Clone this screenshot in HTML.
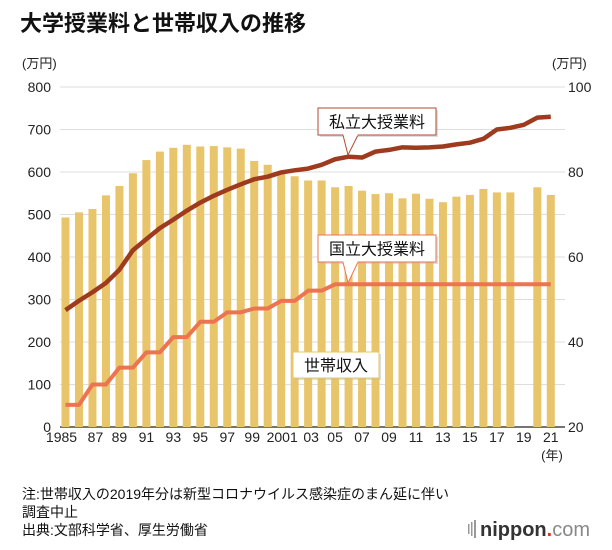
<!DOCTYPE html>
<html><head><meta charset="utf-8"><style>
body{margin:0;background:#fff;width:612px;height:545px;overflow:hidden;font-family:"Liberation Sans","Noto Sans CJK JP",sans-serif;}
svg text{font-family:"Liberation Sans","Noto Sans CJK JP",sans-serif;}
</style></head><body>
<svg id="s" width="612" height="545" xmlns="http://www.w3.org/2000/svg"></svg>
<script>
var inc=[493,505,513,545,567,597,628,648,657,664,660,661,658,655,626,617,602,590,580,580,564,567,556,548,550,538,549,537,529,542,546,560,552,552,null,564,546];
var pri=[47.5,49.7,51.7,53.9,57,61.6,64.2,66.8,68.8,70.9,72.8,74.4,75.8,77.1,78.3,78.9,79.9,80.4,80.8,81.7,83,83.6,83.4,84.8,85.2,85.8,85.7,85.8,86,86.5,86.9,87.8,90,90.4,91.1,92.8,93];
var nat=[25.2,25.2,30,30,33.96,33.96,37.56,37.56,41.16,41.16,44.76,44.76,46.98,46.98,47.88,47.88,49.68,49.68,52.08,52.08];
while(nat.length<37)nat.push(53.58);
var h='';
h+='<text x="20" y="31" font-size="22" font-weight="bold" fill="#111">大学授業料と世帯収入の推移</text>';
h+='<text x="22" y="68" font-size="13" fill="#222">(万円)</text><text x="552" y="68" font-size="13" fill="#222">(万円)</text>';
var y0=427,k=0.425;
for(var v=0;v<=800;v+=100){var y=y0-v*k;h+='<line x1="60" x2="565" y1="'+y+'" y2="'+y+'" stroke="'+(v?'#ddd':'#222')+'" stroke-width="'+(v?1:1.2)+'"/>';
h+='<text x="51" y="'+(y+5)+'" font-size="14" text-anchor="end" fill="#222">'+v+'</text>';}
for(var r=20;r<=100;r+=20){var y=y0-(r-20)*4.25;h+='<text x="568" y="'+(y+5)+'" font-size="14" fill="#222">'+r+'</text>';}
var p=13.48,c0=65.5;
for(var i=0;i<37;i++){if(inc[i]==null)continue;var x=c0+i*p-4;h+='<rect x="'+x+'" y="'+(y0-inc[i]*k)+'" width="8" height="'+(inc[i]*k)+'" fill="#e8c46a"/>';}
function line(a,col,w){var s='';for(var i=0;i<a.length;i++){s+=(i?'L':'M')+(c0+i*p)+','+(y0-(a[i]-20)*4.25);}return '<path d="'+s+'" fill="none" stroke="'+col+'" stroke-width="'+w+'" stroke-linejoin="round"/>';}
h+=line(nat,'#ec7450',4);h+=line(pri,'#9e3a1e',4.5);
var lab=['1985','87','89','91','93','95','97','99','2001','03','05','07','09','11','13','15','17','19','21'];
for(var j=0;j<lab.length;j++){var x=c0+j*2*p;var t=lab[j];if(j==0){x-=4;}if(j==1){x+=3;}if(j==7)x-=2;if(j==8)x+=1;if(j==9)x+=3;
h+='<text x="'+x+'" y="442" font-size="14" text-anchor="middle" fill="#222">'+t+'</text>';}
h+='<text x="552" y="460" font-size="13" text-anchor="middle" fill="#222">(年)</text>';
function box(x,y,w,hh,t,bc,tx,ty){var s='<rect x="'+(x+2)+'" y="'+(y+2)+'" width="'+w+'" height="'+hh+'" fill="#bbb" opacity="0.5"/>';
s+='<rect x="'+x+'" y="'+y+'" width="'+w+'" height="'+hh+'" fill="#fff" stroke="'+bc+'" stroke-width="1"/>';
if(tx){s+='<path d="M'+(x+25)+','+(y+hh)+' L'+tx+','+ty+' L'+(x+40)+','+(y+hh)+'" fill="#fff" stroke="'+bc+'"/><line x1="'+(x+25.5)+'" x2="'+(x+39.5)+'" y1="'+(y+hh)+'" y2="'+(y+hh)+'" stroke="#fff" stroke-width="2"/>';}
s+='<text x="'+(x+w/2)+'" y="'+(y+hh/2+6)+'" font-size="16" text-anchor="middle" fill="#111">'+t+'</text>';return s;}
h+=box(318,108,118,27,'私立大授業料','#b24a30',348,155);
h+=box(318,235,118,27,'国立大授業料','#ec7450',348,283);
h+=box(293,352,86,26,'世帯収入','#e8c46a');
h+='<text x="22" y="499" font-size="14" fill="#111">注:世帯収入の2019年分は新型コロナウイルス感染症のまん延に伴い</text>';
h+='<text x="22" y="517" font-size="14" fill="#111">調査中止</text>';
h+='<text x="22" y="535" font-size="14" fill="#111">出典:文部科学省、厚生労働省</text>';
h+='<g fill="#999"><rect x="468" y="524" width="1.5" height="10"/><rect x="471" y="522" width="1.5" height="14"/><rect x="474" y="520" width="2" height="18"/></g>';
h+='<text x="480" y="536" font-size="20" fill="#333" font-weight="bold">nippon<tspan fill="#e03a1e">.</tspan><tspan fill="#888" font-weight="normal">com</tspan></text>';
document.getElementById('s').innerHTML=h;
</script>
</body></html>
